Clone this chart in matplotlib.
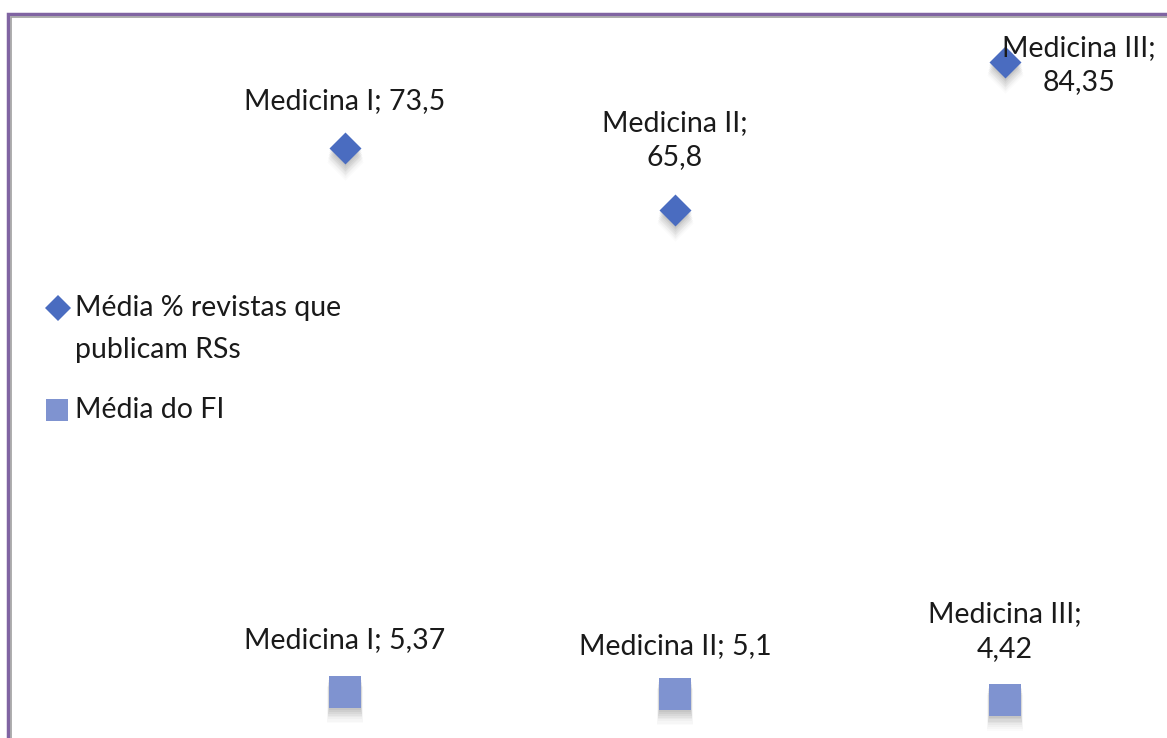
import matplotlib.pyplot as plt
from matplotlib.patches import Rectangle
from matplotlib.lines import Line2D

plt.rcParams['font.family'] = ['Lato', 'DejaVu Sans']

categorias = ['Medicina I', 'Medicina II', 'Medicina III']
x_pos = [1, 2, 3]
media_rss = [73.5, 65.8, 84.35]
media_fi = [5.37, 5.1, 4.42]
rss_labels = ['Medicina I; 73,5', 'Medicina II;\n65,8', 'Medicina III;\n84,35']
fi_labels = ['Medicina I; 5,37', 'Medicina II; 5,1', 'Medicina III;\n4,42']
legend_labels = ['Média % revistas que\npublicam RSs', 'Média do FI']

# label offsets in pixels (dx, dy)
rss_off = [(0, 47), (0, 70), (74, -3)]
fi_off = [(0, 52), (0, 48), (0, 68)]

W, H = 1167, 738
fig = plt.figure(figsize=(W / 100, H / 100), dpi=100)
ax = fig.add_axes([0, 0, 1, 1])
ax.set_xlim(-0.0455, 3.491)
ax.set_ylim(-0.4, 92.1)
ax.axis('off')

# soft shadows under the markers
for i in range(8):
    k = 0.25 + i * 0.2
    a = 0.045 - i * 0.004
    ax.scatter(x_pos, [v - k for v in media_rss], marker='D', s=265 + i * 12,
               color='#000000', alpha=a, linewidths=0, zorder=1)
    ax.scatter(x_pos, [v - k for v in media_fi], marker='s', s=530 + i * 18,
               color='#000000', alpha=a, linewidths=0, zorder=1)
ax.scatter(x_pos, media_rss, marker='D', s=265, color='#4A6CC0', linewidths=0, zorder=3)
ax.scatter(x_pos, media_fi, marker='s', s=560, color='#7F93D0', linewidths=0, zorder=3)

for x, v, lab, off in zip(x_pos, media_rss, rss_labels, rss_off):
    ax.annotate(lab, (x, v), xytext=off, textcoords='offset pixels', ha='center', va='center',
                fontsize=20.5, color='#1a1a1a', linespacing=1.4, zorder=4)
for x, v, lab, off in zip(x_pos, media_fi, fi_labels, fi_off):
    ax.annotate(lab, (x, v), xytext=off, textcoords='offset pixels', ha='center', va='center',
                fontsize=20.5, color='#1a1a1a', linespacing=1.4, zorder=4)

# legend drawn by hand (pixel positions from top-left)
fig.add_artist(Line2D([58 / W], [1 - 308 / H], marker='D', markersize=13.5, color='#4A6CC0',
                      markeredgewidth=0, linestyle='none', transform=fig.transFigure))
fig.add_artist(Line2D([57 / W], [1 - 410 / H], marker='s', markersize=15.5, color='#7F93D0',
                      markeredgewidth=0, linestyle='none', transform=fig.transFigure))
fig.text(75 / W, 1 - 308 / H, legend_labels[0].split('\n')[0], fontsize=20.5, va='center', color='#1a1a1a')
fig.text(75 / W, 1 - 350 / H, legend_labels[0].split('\n')[1], fontsize=20.5, va='center', color='#1a1a1a')
fig.text(75 / W, 1 - 410 / H, legend_labels[1], fontsize=20.5, va='center', color='#1a1a1a')

# frame
fig.patches.append(Rectangle((8 / W, -0.1), 1.2, (H - 14) / H + 0.1, transform=fig.transFigure,
                             fill=False, edgecolor='#8064A2', linewidth=2.5))
fig.patches.append(Rectangle((11 / W, -0.1), 1.2, (H - 17) / H + 0.1, transform=fig.transFigure,
                             fill=False, edgecolor='#A0A0A0', linewidth=1.2))

fig.savefig('out.png', dpi=100)
